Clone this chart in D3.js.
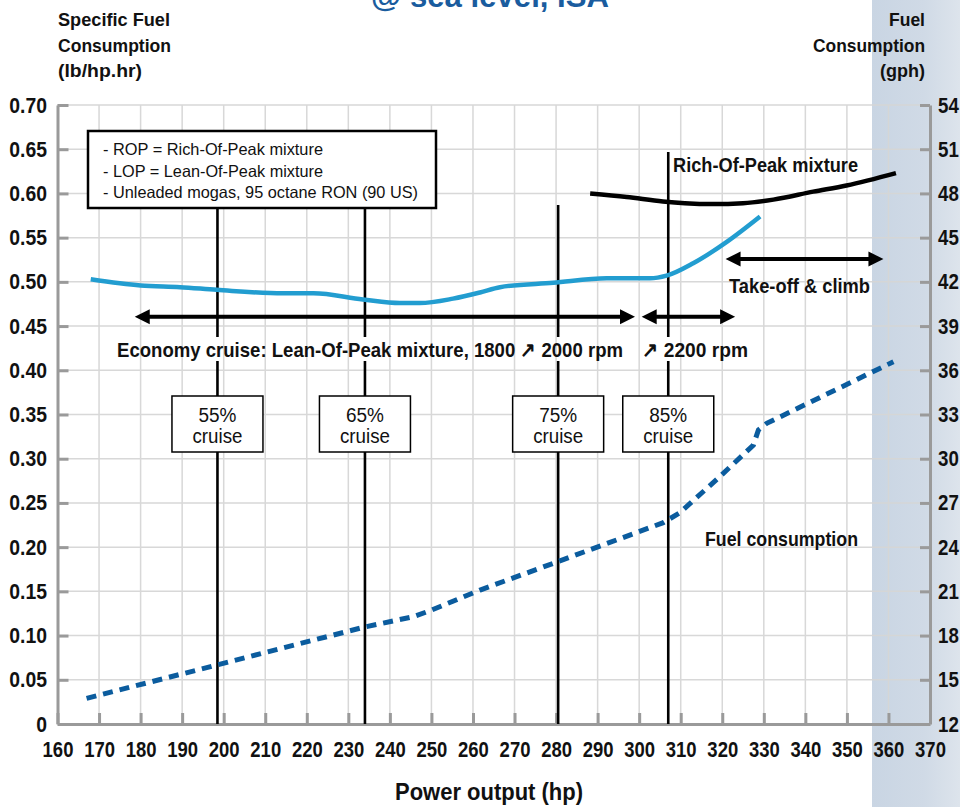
<!DOCTYPE html>
<html><head><meta charset="utf-8">
<script src="https://cdn.jsdelivr.net/npm/d3@7"></script>
<style>
html,body{margin:0;padding:0;background:#fff;}
svg{display:block;font-family:"Liberation Sans",Arial,Helvetica,sans-serif;}
</style></head>
<body>
<svg id="chart" width="960" height="807"></svg>
<script>
// ---------- data ----------
const title = "@ sea level, ISA";
const xTicks = d3.range(160, 371, 10);
const yTicksLeft = [0, 0.05, 0.10, 0.15, 0.20, 0.25, 0.30, 0.35, 0.40, 0.45, 0.50, 0.55, 0.60, 0.65, 0.70];
const yTicksRight = [12, 15, 18, 21, 24, 27, 30, 33, 36, 39, 42, 45, 48, 51, 54];

// Lean-Of-Peak specific fuel consumption (lb/hp.hr)
const lopHp  = [168, 180, 189.5, 198.3, 214.3, 221.6, 233.5, 242.4, 247.2, 255.2, 261.7, 266.5, 279.3, 292.2, 302.6, 306.6, 313, 321, 329.1];
const lopSfc = [0.503, 0.496, 0.494, 0.491, 0.487, 0.487, 0.480, 0.476, 0.476, 0.481, 0.488, 0.494, 0.499, 0.504, 0.504, 0.507, 0.521, 0.545, 0.574];

// Rich-Of-Peak specific fuel consumption (lb/hp.hr)
const ropHp  = [288.2, 297, 305.7, 311, 317.8, 325, 332.3, 341.9, 349.9, 361.8];
const ropSfc = [0.600, 0.596, 0.591, 0.589, 0.588, 0.589, 0.593, 0.602, 0.609, 0.623];

// Fuel consumption (gph)
const fuelHp  = [167, 198.3, 233.6, 245.6, 249.7, 261.7, 279.3, 305.8, 309.8, 319.4, 327.5, 328.7, 330.7, 361.2];
const fuelGph = [13.74, 16.0, 18.56, 19.28, 19.69, 21.09, 22.9, 25.66, 26.34, 28.78, 30.93, 31.95, 32.4, 36.58];

// Cruise power settings
const cruiseHp    = [198.5, 234, 280.5, 307];
const cruiseLabel = ["55%", "65%", "75%", "85%"];

const legendLines = ["- ROP = Rich-Of-Peak mixture", "- LOP = Lean-Of-Peak mixture", "- Unleaded mogas, 95 octane RON (90 US)"];

// ---------- chart ----------
const svg = d3.select("#chart");
const x  = d3.scaleLinear().domain([160, 370]).range([57.5, 930]);
const y  = d3.scaleLinear().domain([0, 0.70]).range([724, 105]);
const yR = d3.scaleLinear().domain([12, 54]).range([724, 105]);

function txt(parent, str, xx, yy, size, weight, anchor, len){
  const t = parent.append("text").attr("x",xx).attr("y",yy).attr("font-size",size)
    .attr("font-weight",weight).attr("text-anchor",anchor).attr("fill","#111").text(str);
  if (len) t.attr("textLength",len).attr("lengthAdjust","spacingAndGlyphs");
  return t;
}
function condense(sel, k){
  sel.each(function(){
    const w = this.getComputedTextLength();
    d3.select(this).attr("textLength", w*k).attr("lengthAdjust","spacingAndGlyphs");
  });
}

// shaded band
const defs = svg.append("defs");
const g1 = defs.append("linearGradient").attr("id","band").attr("x1","0").attr("x2","1").attr("y1","0").attr("y2","0");
g1.append("stop").attr("offset","0%").attr("stop-color","#c9d5e3");
g1.append("stop").attr("offset","60%").attr("stop-color","#d0dae6");
g1.append("stop").attr("offset","100%").attr("stop-color","#dde4ec");
svg.append("rect").attr("x", 872).attr("y", 0).attr("width", 88).attr("height", 807).attr("fill","url(#band)");

// title (cut off at top)
txt(svg, title, 490, 7, 32, "bold", "middle", 238).attr("fill","#1a5c9e");

// grid
const grid = svg.append("g").attr("stroke","#d6d6d6").attr("stroke-width",1.5).attr("opacity",0.95);
grid.selectAll("line.v").data(xTicks.filter(d => d > 160 && d < 370)).join("line")
  .attr("x1", d => x(d)).attr("x2", d => x(d)).attr("y1", y(0.70)).attr("y2", y(0));
grid.selectAll("line.h").data(yTicksLeft.filter(d => d > 0)).join("line")
  .attr("x1", x(160)).attr("x2", x(370)).attr("y1", d => y(d)).attr("y2", d => y(d));

// axes
function styleAxis(g, size, k){
  g.attr("font-family", null);
  g.select(".domain").attr("stroke","#9a9a9a").attr("stroke-width",3);
  g.selectAll(".tick line").attr("stroke","#9a9a9a").attr("stroke-width",3);
  g.selectAll(".tick text").attr("fill","#111").attr("font-weight","bold").attr("font-size", size);
  condense(g.selectAll(".tick text"), k);
}
const fmtL = d => d === 0 ? "0" : d3.format(".2f")(d);
svg.append("g").attr("transform",`translate(0,${y(0)})`)
  .call(d3.axisBottom(x).tickValues(xTicks).tickSize(-11).tickSizeOuter(0).tickPadding(17.3).tickFormat(d3.format("d")))
  .call(g => styleAxis(g, 22, 0.84));
svg.append("g").attr("transform",`translate(${x(160)},0)`)
  .call(d3.axisLeft(y).tickValues(yTicksLeft).tickSize(-11).tickSizeOuter(0).tickPadding(10.5).tickFormat(fmtL))
  .call(g => styleAxis(g, 22, 0.88));
svg.append("g").attr("transform",`translate(${x(370)},0)`)
  .call(d3.axisRight(yR).tickValues(yTicksRight).tickSize(-10).tickSizeOuter(0).tickPadding(8).tickFormat(d3.format("d")))
  .call(g => styleAxis(g, 22, 0.85));

// axis titles
txt(svg, "Specific Fuel", 58, 26, 18, "bold", "start", 112);
txt(svg, "Consumption", 58, 52, 18, "bold", "start", 113);
txt(svg, "(lb/hp.hr)", 58, 77, 18, "bold", "start", 84);
txt(svg, "Fuel", 925, 26, 18, "bold", "end", 36);
txt(svg, "Consumption", 925, 52, 18, "bold", "end", 112);
txt(svg, "(gph)", 925, 77, 18, "bold", "end", 45);
txt(svg, "Power output (hp)", 489, 800, 24, "bold", "middle", 188);

// annotation texts under the arrows (measured first so cruise lines can break around them)
const annoG = svg.append("g");
const econ = txt(annoG, "Economy cruise: Lean-Of-Peak mixture, 1800 \u2197 2000 rpm", 117, 357, 21, "bold", "start", 506);
const rpm2 = txt(annoG, "\u2197 2200 rpm", 642, 357, 21, "bold", "start", 106);
const eb = econ.node().getBBox();
const gapTop = 337, gapBot = 361;

// vertical cruise lines (broken where the annotation text sits)
const topOf = [208, 208, 205, 152];
const cl = svg.insert("g", () => annoG.node());
cruiseHp.forEach((h,i) => {
  [[topOf[i], gapTop], [gapBot, y(0)]].forEach(([a,b]) => {
    cl.append("line").attr("x1", x(h)).attr("x2", x(h)).attr("y1", a).attr("y2", b)
      .attr("stroke","#000").attr("stroke-width",2.6);
  });
});

// legend box
const lg = svg.append("g");
lg.append("rect").attr("x",88).attr("y",131).attr("width",348).attr("height",77)
  .attr("fill","#fff").attr("stroke","#000").attr("stroke-width",2.5);
const legLen = [220, 220, 315];
legendLines.forEach((d,i) => txt(lg, d, 103, 155+i*21.5, 16.5, "normal", "start", legLen[i]));

// lines
const line = d3.line().curve(d3.curveMonotoneX);
svg.append("path").attr("d", line(lopHp.map((h,i)=>[x(h), y(lopSfc[i])])))
  .attr("fill","none").attr("stroke","#229dd0").attr("stroke-width",4.5);
svg.append("path").attr("d", line(ropHp.map((h,i)=>[x(h), y(ropSfc[i])])))
  .attr("fill","none").attr("stroke","#000").attr("stroke-width",4.5);
svg.append("path").attr("d", d3.line()(fuelHp.map((h,i)=>[x(h), yR(fuelGph[i])])))
  .attr("fill","none").attr("stroke","#0b5c9e").attr("stroke-width",5).attr("stroke-dasharray","10,7");

// arrows
function arrow(h1, h2, v){
  const x1 = x(h1), x2 = x(h2), yy = y(v), L = 15, Hh = 7.5;
  const g = svg.append("g");
  g.append("line").attr("x1", x1+L-2).attr("x2", x2-L+2).attr("y1", yy).attr("y2", yy)
    .attr("stroke","#000").attr("stroke-width",4);
  g.append("path").attr("d", `M${x1},${yy}L${x1+L},${yy-Hh}L${x1+L},${yy+Hh}Z`).attr("fill","#000");
  g.append("path").attr("d", `M${x2},${yy}L${x2-L},${yy-Hh}L${x2-L},${yy+Hh}Z`).attr("fill","#000");
}
arrow(178.6, 299.0, 0.4606);
arrow(300.6, 323.1, 0.4606);
arrow(320.8, 358.8, 0.5258);

txt(svg, "Rich-Of-Peak mixture", 673, 172, 21, "bold", "start", 185);
txt(svg, "Take-off & climb", 729, 293, 21, "bold", "start", 141);
txt(svg, "Fuel consumption", 705, 546, 21, "bold", "start", 153);

// cruise boxes
const cb = svg.append("g").selectAll("g").data(cruiseHp).join("g")
  .attr("transform", d => `translate(${x(d)},0)`);
cb.append("rect").attr("x",-45.5).attr("y",396).attr("width",91).attr("height",56)
  .attr("fill","#fff").attr("stroke","#000").attr("stroke-width",1.5);
cb.each(function(d,i){
  const g = d3.select(this);
  txt(g, cruiseLabel[i], 0, 422, 19.5, "normal", "middle", 38);
  txt(g, "cruise", 0, 443, 19.5, "normal", "middle", 50);
});
</script>
</body></html>
